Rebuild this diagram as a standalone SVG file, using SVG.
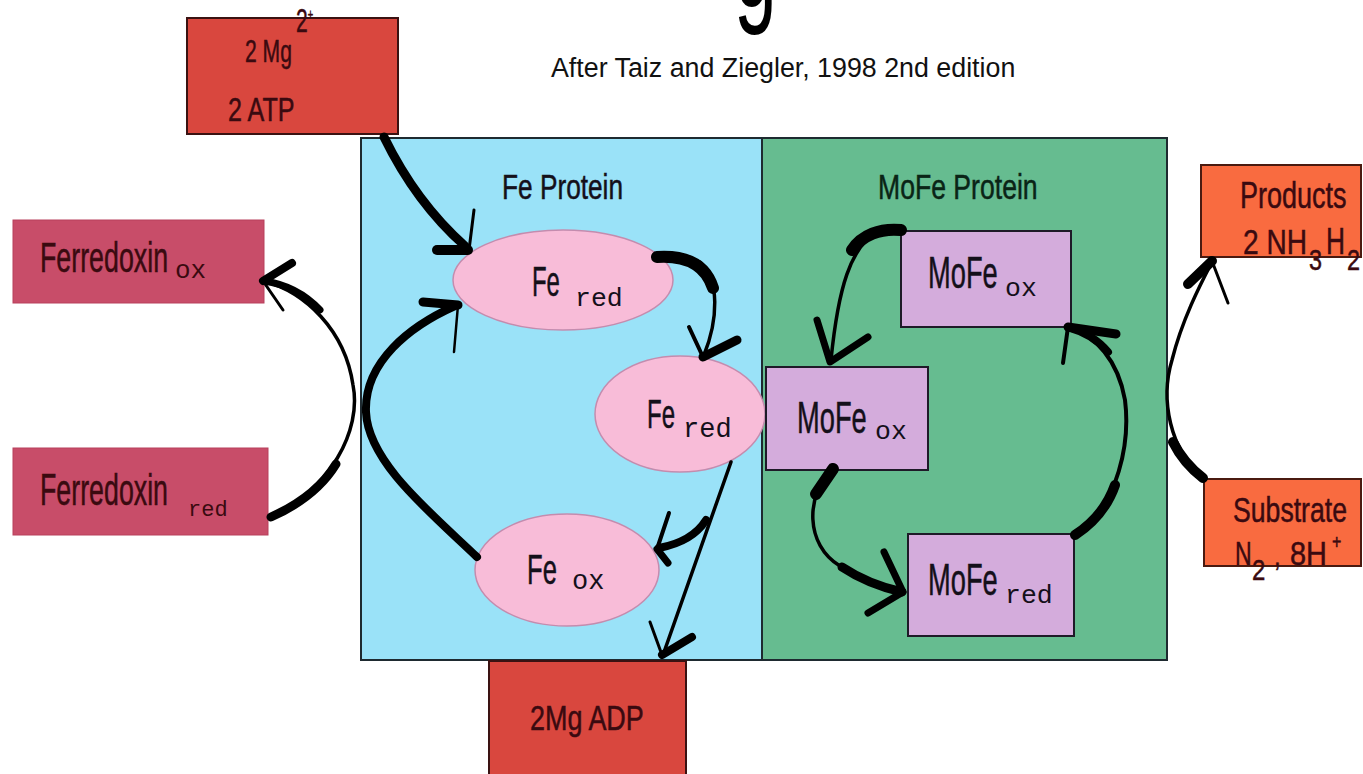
<svg xmlns="http://www.w3.org/2000/svg" width="1363" height="774" viewBox="0 0 1363 774">
<defs>
<style>
text{font-family:"Liberation Sans",Arial,sans-serif;}
.lbl{fill:#3a0a10;stroke:#3a0a10;stroke-width:0.5;}
.dark{fill:#14101a;stroke:#14101a;stroke-width:0.5;}
.mono{font-family:"Liberation Mono","Courier New",monospace;fill:#14101a;}
.monor{font-family:"Liberation Mono","Courier New",monospace;fill:#3a0a10;}
.redbox{fill:#d9473e;stroke:#3a1212;stroke-width:2;}
.fdx{fill:#c84d69;stroke:#b8405c;stroke-width:1;}
.orbox{fill:#f96b40;stroke:#4a1a10;stroke-width:2;}
.ell{fill:#f8bcd8;stroke:#c48cae;stroke-width:1.5;}
.lav{fill:#d4acdc;stroke:#1e1a28;stroke-width:2;}
.ink{fill:none;stroke:#000;stroke-linecap:round;stroke-linejoin:round;}
</style>
</defs>
<rect width="1363" height="774" fill="#ffffff"/>

<g id="title">
<text fill="#000" transform="translate(734,6) scale(0.55,1)" font-size="140">g</text>
<text fill="#111" x="551" y="77" font-size="26.8">After Taiz and Ziegler, 1998 2nd edition</text>
</g>

<g id="fe-protein">
<rect x="361" y="138" width="401" height="522" fill="#9ae2f8" stroke="#1e2a30" stroke-width="2"/>
<text class="dark" transform="translate(502,199) scale(0.75,1)" font-size="35">Fe Protein</text>
</g>
<g id="mofe-protein">
<rect x="762" y="138" width="405" height="522" fill="#66bc90" stroke="#1e2a30" stroke-width="2"/>
<text fill="#0a2416" stroke="#0a2416" stroke-width="0.5" transform="translate(878,199) scale(0.76,1)" font-size="35">MoFe Protein</text>
</g>

<g id="mg-atp">
<rect class="redbox" x="187" y="18" width="211" height="116"/>
<text class="lbl" transform="translate(245,62) scale(0.66,1)" font-size="32">2 Mg</text>
<text class="lbl" transform="translate(296,32) scale(0.62,1)" font-size="34">2<tspan font-size="15" dy="-13">+</tspan></text>
<text class="lbl" transform="translate(228,121) scale(0.74,1)" font-size="34">2 ATP</text>
</g>

<g id="mg-adp">
<rect class="redbox" x="489" y="661" width="197" height="125"/>
<text class="lbl" transform="translate(530,730) scale(0.77,1)" font-size="35">2Mg ADP</text>
</g>

<g id="ferredoxin-ox">
<rect class="fdx" x="13" y="220" width="251" height="83"/>
<text class="lbl" transform="translate(40,272) scale(0.638,1)" font-size="42">Ferredoxin</text>
<text class="monor" x="175" y="278" font-size="26">ox</text>
</g>
<g id="ferredoxin-red">
<rect class="fdx" x="13" y="448" width="255" height="87"/>
<text class="lbl" transform="translate(40,505) scale(0.609,1)" font-size="44">Ferredoxin</text>
<text class="monor" x="188" y="516" font-size="22">red</text>
</g>

<g id="fe-red-1">
<ellipse class="ell" cx="563" cy="280" rx="110" ry="50"/>
<text class="dark" transform="translate(532,296) scale(0.57,1)" font-size="42">Fe</text>
<text class="mono" x="575" y="306" font-size="26.5">red</text>
</g>
<g id="fe-red-2">
<ellipse class="ell" cx="680" cy="414" rx="85" ry="58"/>
<text class="dark" transform="translate(647,428) scale(0.6,1)" font-size="40">Fe</text>
<text class="mono" x="683" y="437" font-size="27">red</text>
</g>
<g id="fe-ox">
<ellipse class="ell" cx="567" cy="570" rx="92" ry="56"/>
<text class="dark" transform="translate(527,584) scale(0.61,1)" font-size="42">Fe</text>
<text class="mono" x="572" y="589" font-size="27">ox</text>
</g>

<g id="mofe-ox-1">
<rect class="lav" x="901" y="231" width="170" height="96"/>
<text class="dark" transform="translate(928,288) scale(0.62,1)" font-size="44">MoFe</text>
<text class="mono" x="1005" y="296" font-size="26.5">ox</text>
</g>
<g id="mofe-ox-2">
<rect class="lav" x="766" y="367" width="162" height="103"/>
<text class="dark" transform="translate(797,433) scale(0.62,1)" font-size="44">MoFe</text>
<text class="mono" x="875" y="439" font-size="26.5">ox</text>
</g>
<g id="mofe-red">
<rect class="lav" x="908" y="534" width="166" height="102"/>
<text class="dark" transform="translate(928,595) scale(0.62,1)" font-size="44">MoFe</text>
<text class="mono" x="1005" y="603" font-size="26.5">red</text>
</g>

<g id="products">
<rect class="orbox" x="1201" y="165" width="160" height="92"/>
<text class="lbl" transform="translate(1240,208) scale(0.75,1)" font-size="36">Products</text>
<text class="lbl" transform="translate(1243,254) scale(0.78,1)" font-size="36">2 NH</text>
<text class="lbl" transform="translate(1309,270) scale(0.78,1)" font-size="30">3</text>
<text class="lbl" transform="translate(1326,254) scale(0.73,1)" font-size="36">H</text>
<text class="lbl" transform="translate(1347,270) scale(0.78,1)" font-size="30">2</text>
</g>
<g id="substrate">
<rect class="orbox" x="1204" y="479" width="157" height="87"/>
<text class="lbl" transform="translate(1233,522) scale(0.74,1)" font-size="36">Substrate</text>
<text class="lbl" transform="translate(1235,565) scale(0.68,1)" font-size="34">N</text>
<text class="lbl" transform="translate(1252,580) scale(0.8,1)" font-size="30">2</text>
<text class="lbl" transform="translate(1274,566) scale(0.8,1)" font-size="30">,</text>
<text class="lbl" transform="translate(1290,565) scale(0.85,1)" font-size="34">8H</text>
<text class="lbl" transform="translate(1332,549) scale(0.8,1)" font-size="20">+</text>
</g>

<g id="connectors">
<!-- 2Mg ATP -> Fe red 1 -->
<path class="ink" stroke-width="9" d="M384 137 C405 180 430 215 465 246"/>
<path class="ink" stroke-width="10" d="M468 250 L437 250"/>
<path class="ink" stroke-width="3" d="M469 250 L474 210"/>
<!-- Ferredoxin red -> Ferredoxin ox -->
<path class="ink" stroke-width="3.5" d="M271 517 C330 490 362 430 353 385 C345 330 305 292 264 281"/>
<path class="ink" stroke-width="9" d="M271 517 C298 505 322 487 336 464"/>
<path class="ink" stroke-width="7" d="M264 281 C285 284 305 294 320 310"/>
<path class="ink" stroke-width="8" d="M263 281 L292 263"/>
<path class="ink" stroke-width="3" d="M263 281 L283 310"/>
<!-- Fe ox -> Fe red 1 -->
<path class="ink" stroke-width="8" d="M477 557 C430 512 368 462 366 412 C364 362 410 326 455 306"/>
<path class="ink" stroke-width="9" d="M458 305 L423 302"/>
<path class="ink" stroke-width="2.5" d="M458 305 L454 352"/>
<!-- Fe red 1 -> Fe red 2 -->
<path class="ink" stroke-width="12" d="M657 257 C688 255 706 266 713 288"/>
<path class="ink" stroke-width="3.5" d="M700 262 C720 280 718 320 704 355"/>
<path class="ink" stroke-width="4" d="M689 327 L703 357"/>
<path class="ink" stroke-width="9" d="M703 357 L737 340"/>
<!-- Fe red 2 -> 2Mg ADP -->
<path class="ink" stroke-width="3.5" d="M731 462 L663 655"/>
<path class="ink" stroke-width="3" d="M650 622 L662 655"/>
<path class="ink" stroke-width="8" d="M662 655 L692 637"/>
<!-- Fe red 2 -> Fe ox -->
<path class="ink" stroke-width="8" d="M706 520 C696 536 680 544 659 548"/>
<path class="ink" stroke-width="4" d="M669 513 L657 549"/>
<path class="ink" stroke-width="7" d="M657 549 L668 563"/>
<!-- MoFe ox (top) -> MoFe ox (mid) -->
<path class="ink" stroke-width="12" d="M901 230 C880 228 862 235 852 250"/>
<path class="ink" stroke-width="3.5" d="M880 230 C850 245 838 290 831 360"/>
<path class="ink" stroke-width="7" d="M817 320 L830 362 L868 337"/>
<!-- MoFe ox (mid) -> MoFe red -->
<path class="ink" stroke-width="3.5" d="M833 468 C805 495 805 545 840 566 C860 578 880 588 902 592"/>
<path class="ink" stroke-width="12" d="M833 469 L816 494"/>
<path class="ink" stroke-width="9" d="M842 567 C860 579 880 587 902 592"/>
<path class="ink" stroke-width="7" d="M884 552 L903 592 L868 613"/>
<!-- MoFe red -> MoFe ox (top) -->
<path class="ink" stroke-width="4" d="M1075 535 C1120 505 1130 440 1125 400 C1118 360 1095 335 1070 328"/>
<path class="ink" stroke-width="10" d="M1075 535 C1095 522 1108 505 1115 485"/>
<path class="ink" stroke-width="8" d="M1070 328 C1085 332 1098 340 1108 352"/>
<path class="ink" stroke-width="4" d="M1063 363 L1068 327"/>
<path class="ink" stroke-width="9" d="M1068 327 L1116 334"/>
<!-- Substrate -> Products -->
<path class="ink" stroke-width="3.5" d="M1203 478 C1170 450 1160 400 1172 360 C1182 320 1200 285 1212 262"/>
<path class="ink" stroke-width="10" d="M1203 478 C1190 468 1180 456 1173 442"/>
<path class="ink" stroke-width="10" d="M1188 284 L1212 261"/>
<path class="ink" stroke-width="3" d="M1212 261 L1228 303"/>
</g>
</svg>
